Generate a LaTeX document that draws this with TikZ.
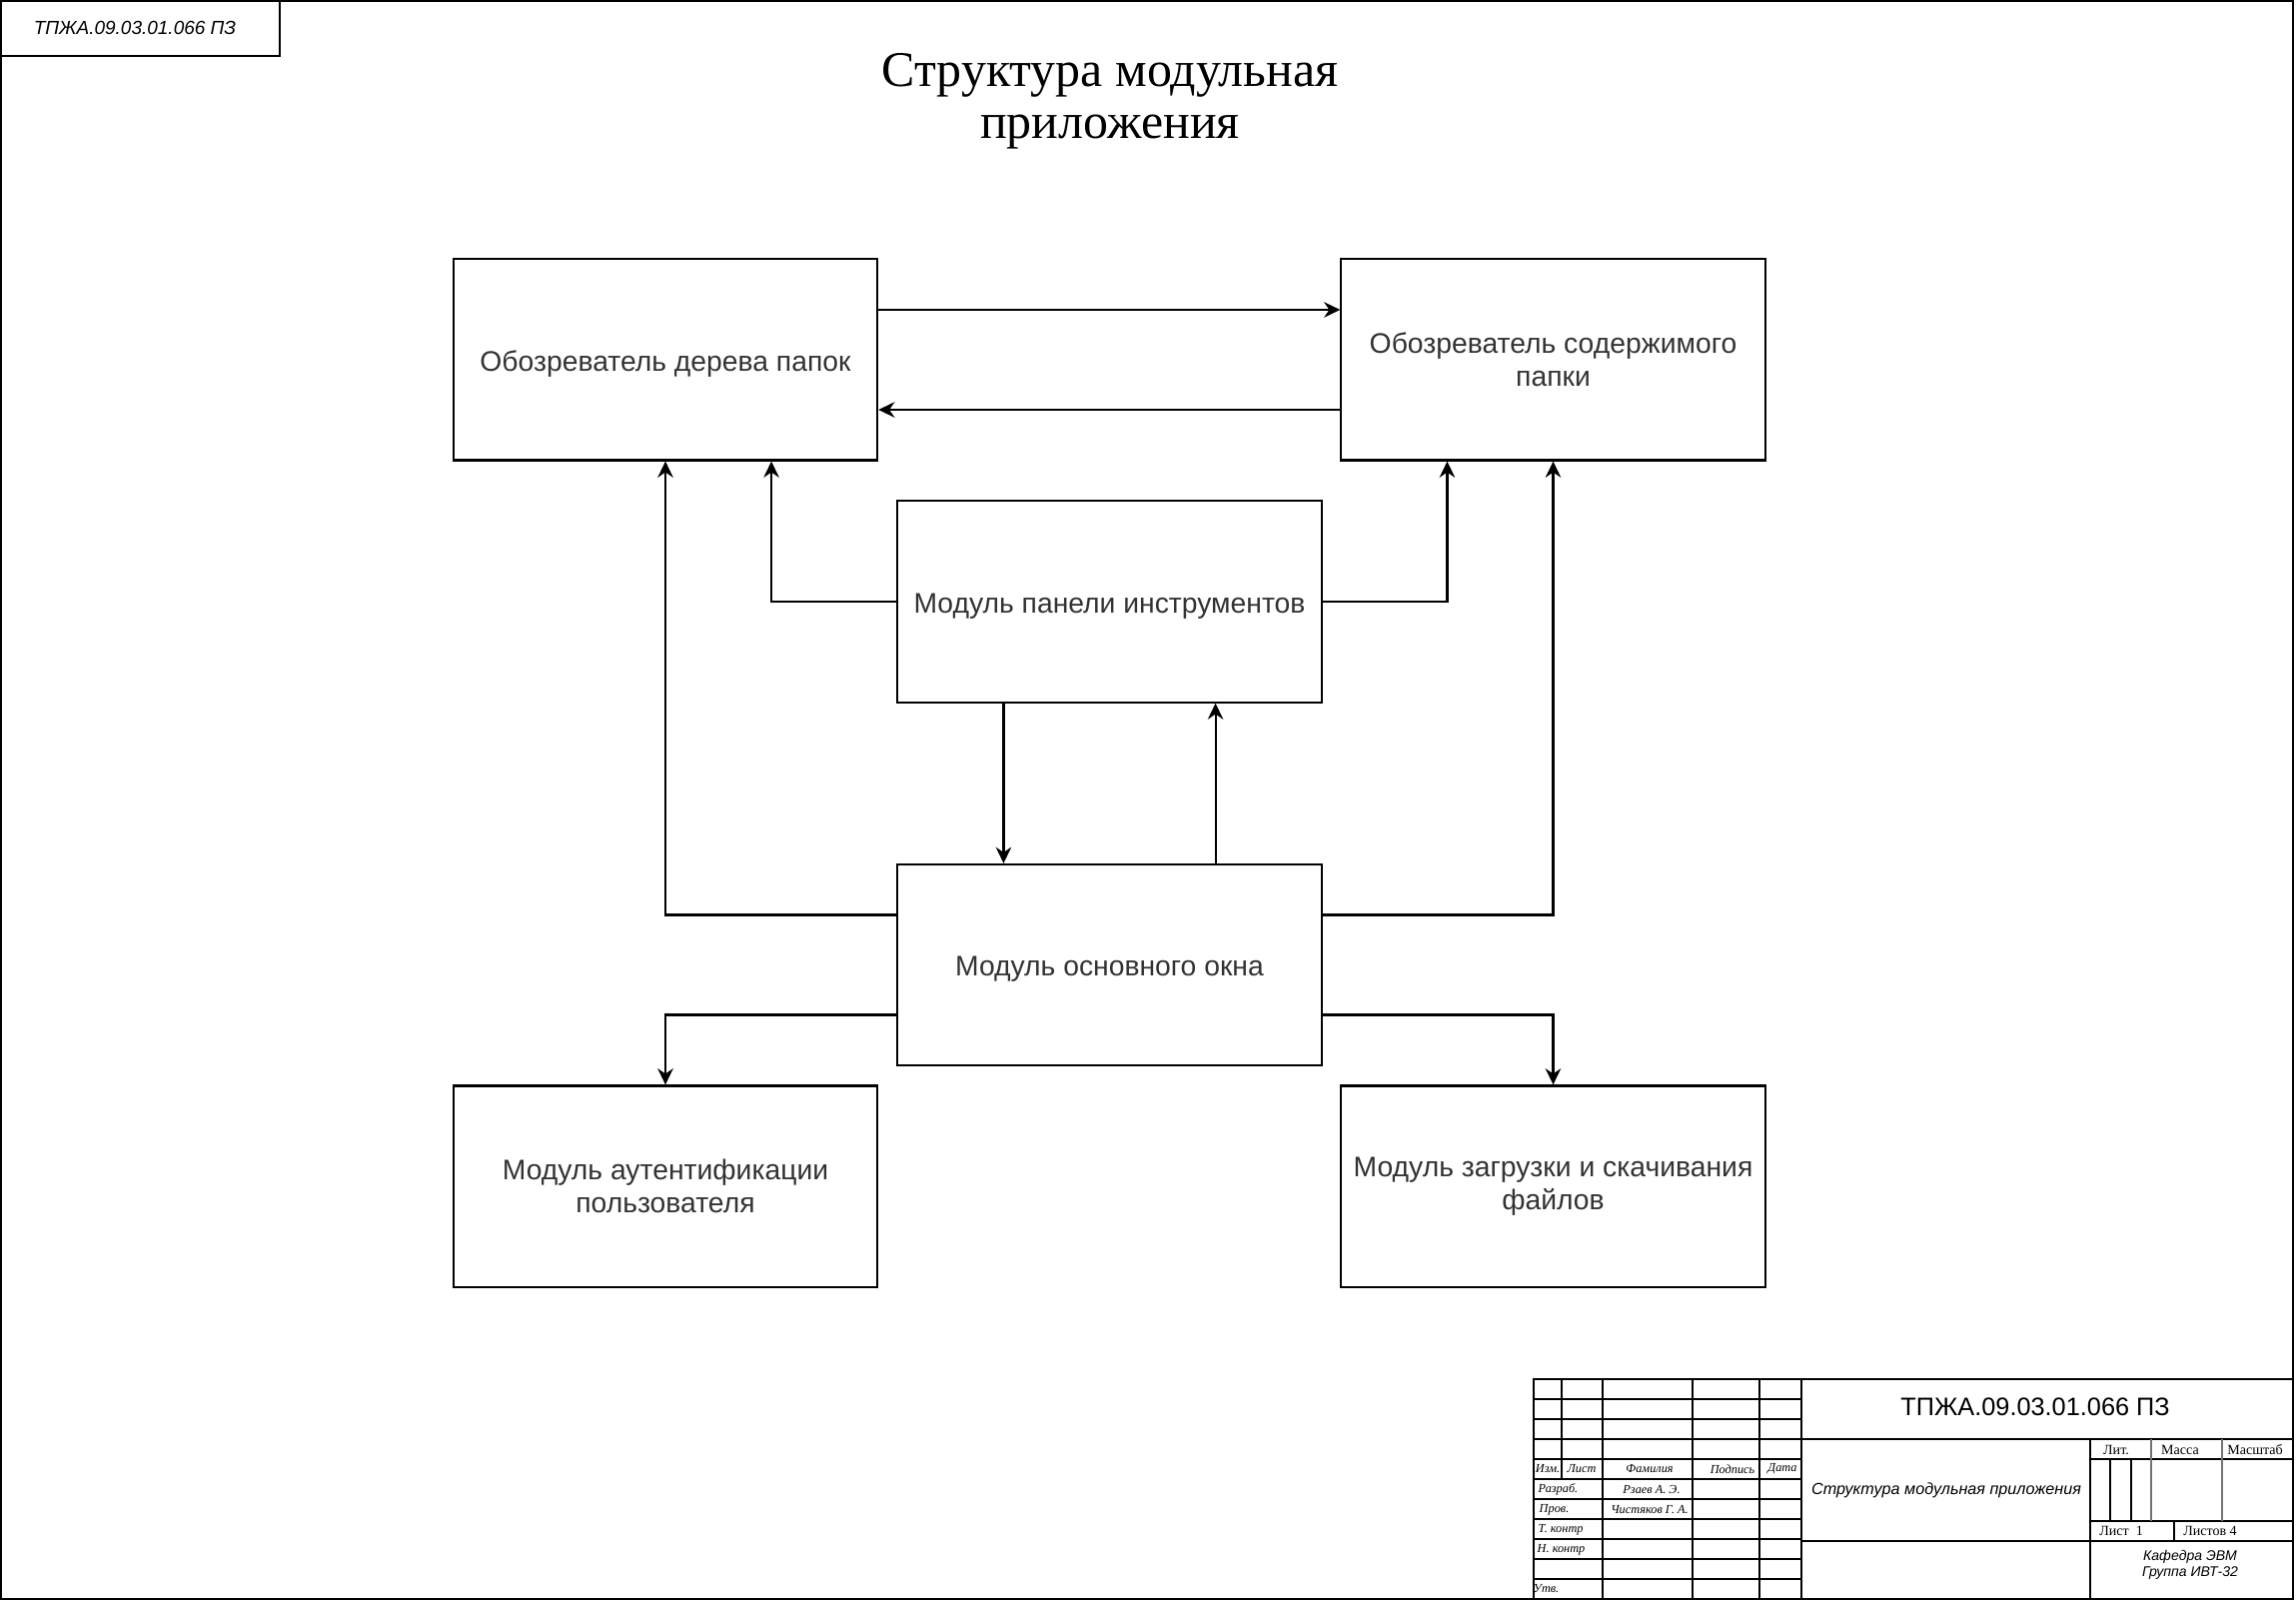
\documentclass[tikz,border=0pt]{standalone}
\usepackage{fontspec}
\setmainfont{Liberation Serif}
\setsansfont{Liberation Sans}
\usepackage{tikz}
\usetikzlibrary{arrows.meta}

\begin{document}
\begin{tikzpicture}[x=0.01cm,y=-0.01cm,>={Stealth[length=4.6pt,width=4.4pt]},
  block/.style={draw,line width=0.6pt,minimum width=4.24cm,minimum height=2.01cm,inner sep=2pt,align=center,font=\sffamily\fontsize{8.05}{9.3}\selectfont,text=black!80,execute at begin node={\rule{0pt}{8pt}}},
  link/.style={->,line width=0.6pt},
  grid/.style={line width=0.5pt},
  cell/.style={font=\itshape\fontsize{3.5}{4.2}\selectfont,inner sep=0pt},
  head/.style={font=\fontsize{4}{4.8}\selectfont,inner sep=0pt}]
  \useasboundingbox (0,0) rectangle (2298,1604);
  % sheet frame and stamp
  \draw[grid] (1,1) rectangle (2295,1600);
  \draw[grid] (1,1) rectangle (280,56);
  \node[font=\sffamily\itshape\fontsize{5.4}{6.4}\selectfont,inner sep=0pt] (stamp) at (135,28) {ТПЖА.09.03.01.066 ПЗ};
  \node[align=center,font=\fontsize{14.2}{14.8}\selectfont] (title) at (1111,101) {Структура модульная\\приложения};
  % modules
  \node[block] (tree) at (666,360) {Обозреватель дерева папок};
  \node[block] (content) at (1554.5,360) {Обозреватель содержимого\\папки};
  \node[block] (toolbar) at (1110.5,602) {Модуль панели инструментов};
  \node[block] (main) at (1110.5,965.5) {Модуль основного окна};
  \node[block] (auth) at (666,1187) {Модуль аутентификации\\пользователя};
  \node[block] (upload) at (1554.5,1187) {Модуль загрузки и скачивания\\файлов};
  % links
  \draw[link] ([yshift=0.5cm]tree.east) -- ([yshift=0.5cm]content.west);
  \draw[link] ([yshift=-0.5cm]content.west) -- ([yshift=-0.5cm]tree.east);
  \draw[link] (toolbar.west) -| ([xshift=1.06cm]tree.south);
  \draw[link] (toolbar.east) -| ([xshift=-1.06cm]content.south);
  \draw[link] ([xshift=-1.06cm]toolbar.south) -- ([xshift=-1.06cm]main.north);
  \draw[link] ([xshift=1.06cm]main.north) -- ([xshift=1.06cm]toolbar.south);
  \draw[link] ([yshift=0.5cm]main.west) -| (tree.south);
  \draw[link] ([yshift=0.5cm]main.east) -| (content.south);
  \draw[link] ([yshift=-0.5cm]main.west) -| (auth.north);
  \draw[link] ([yshift=-0.5cm]main.east) -| (upload.north);
  % title block
  \draw[grid] (1535,1380) rectangle (2295,1600);
  \foreach \y in {1400,1420,...,1580}
    \draw[grid] (1535,\y) -- (1803,\y);
  \draw[grid] (1563,1380) -- (1563,1481);
  \foreach \x in {1604,1694,1761,1803}
    \draw[grid] (\x,1380) -- (\x,1600);
  \draw[grid] (1803,1440) -- (2295,1440);
  \draw[grid] (1803,1542) -- (2295,1542);
  \draw[grid] (2092,1440) -- (2092,1600);
  \draw[grid] (2092,1460) -- (2295,1460);
  \draw[grid] (2092,1522) -- (2295,1522);
  \draw[grid] (2112,1460) -- (2112,1522);
  \draw[grid] (2133,1460) -- (2133,1522);
  \draw[grid,black!55] (2153,1440) -- (2153,1522);
  \draw[grid,black!55] (2224,1440) -- (2224,1522);
  \draw[grid] (2176,1522) -- (2176,1542);
  \node[cell] (izm) at (1549,1470) {Изм.};
  \node[cell] (list) at (1583,1470) {Лист};
  \node[cell] (fam) at (1651,1470) {Фамилия};
  \node[cell] (podp) at (1734,1470) {Подпись};
  \node[cell] (data) at (1784,1470) {Дата};
  \node[cell,anchor=west] (razr) at (1539,1490) {Разраб.};
  \node[cell] (razrname) at (1653,1490) {Рзаев А. Э.};
  \node[cell,anchor=west] (prov) at (1540,1511) {Пров.};
  \node[cell] (provname) at (1651,1511) {Чистяков Г. А.};
  \node[cell,anchor=west] (tkontr) at (1539,1531) {Т. контр};
  \node[cell,anchor=west] (nkontr) at (1538,1551) {Н. контр};
  \node[cell,anchor=west] (utv) at (1534,1590) {Утв.};
  \node[font=\sffamily\fontsize{7.2}{8.4}\selectfont,inner sep=0pt] (code) at (2037,1408) {ТПЖА.09.03.01.066 ПЗ};
  \node[font=\sffamily\itshape\fontsize{4.6}{5.5}\selectfont,inner sep=0pt] (docname) at (1948,1491) {Структура модульная приложения};
  \node[head] (lit) at (2118,1451) {Лит.};
  \node[head] (massa) at (2182,1451) {Масса};
  \node[head] (masht) at (2257,1451) {Масштаб};
  \node[head] (sheet) at (2123,1532) {Лист\ \ 1};
  \node[head] (sheets) at (2212,1532) {Листов 4};
  \node[align=center,font=\sffamily\itshape\fontsize{4}{4.6}\selectfont,inner sep=0pt] (dept) at (2192,1566) {Кафедра ЭВМ\\Группа ИВТ-32};
\end{tikzpicture}
\end{document}
